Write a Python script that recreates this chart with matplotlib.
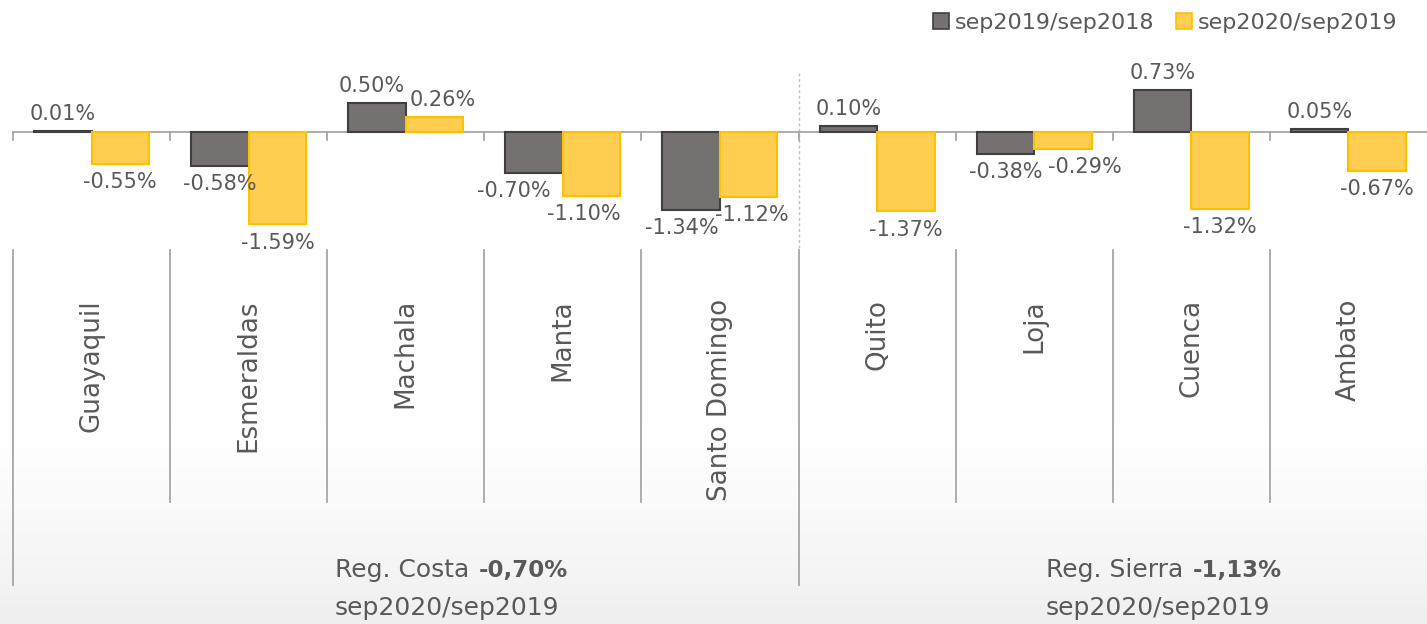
import numpy as np
import matplotlib
matplotlib.use("Agg")
import matplotlib.pyplot as plt
from matplotlib.patches import Patch
from matplotlib.colors import LinearSegmentedColormap

cities = ["Guayaquil", "Esmeraldas", "Machala", "Manta", "Santo Domingo",
          "Quito", "Loja", "Cuenca", "Ambato"]
var_2019 = [0.01, -0.58, 0.50, -0.70, -1.34, 0.10, -0.38, 0.73, 0.05]
var_2020 = [-0.55, -1.59, 0.26, -1.10, -1.12, -1.37, -0.29, -1.32, -0.67]
series_names = ["sep2019/sep2018", "sep2020/sep2019"]
regions = ["Reg. Costa", "Reg. Sierra"]
region_totals = ["-0,70%", "-1,13%"]
region_period = "sep2020/sep2019"

TXT = "#595959"
GRAY = "#767171"
GRAY_EDGE = "#3f3f3f"
YEL = "#ffcd4f"
YEL_EDGE = "#ffc000"
AXC = "#a6a6a6"

W, H = 1427, 624
CAT_W = 157.1      # px per category
X0 = 13            # px of left edge
Y0 = 132           # px of zero line
SCALE = 58.0       # px per 1 %

# small horizontal nudges (px) so neighbouring labels don't collide
nudge_2019 = {2: -5, 3: -20, 4: -9}
nudge_2020 = {2: 8, 3: -8, 4: 3, 6: 22}

def px_y(py):
    return (Y0 - py) / SCALE

def px_x(px):
    return (px - X0) / CAT_W - 0.5

plt.rcParams["font.family"] = ["DejaVu Sans"]

fig = plt.figure(figsize=(W / 100, H / 100), dpi=100)
ax = fig.add_axes([0, 0, 1, 1])
ax.set_xlim(px_x(0), px_x(W))
ax.set_ylim(px_y(H), px_y(0))
ax.axis("off")

# faint background gradient at the bottom
grad = np.linspace(0, 1, 200)[:, None] ** 1.4
grad = np.repeat(grad, 10, axis=1)
cmap = LinearSegmentedColormap.from_list("bg", ["#ffffff", "#efefef"])
ax.imshow(grad, cmap=cmap, aspect="auto", zorder=0,
          extent=(px_x(0), px_x(W), px_y(H), px_y(420)), origin="upper")

x = np.arange(len(cities))
bw = 0.366
b1 = ax.bar(x - bw / 2, var_2019, bw, color=GRAY, edgecolor=GRAY_EDGE,
            linewidth=1.5, zorder=3)
b2 = ax.bar(x + bw / 2, var_2020, bw, color=YEL, edgecolor=YEL_EDGE,
            linewidth=1.5, zorder=3)

# zero line, ticks and separators
ax.plot([px_x(X0), px_x(W)], [0, 0], color=AXC, lw=1.3, zorder=2)
edges = np.arange(len(cities) + 1) - 0.5
for e in edges[:-1]:
    ax.plot([e, e], [0, px_y(140)], color=AXC, lw=1.3, zorder=2)
    bottom = 585 if e in (edges[0], edges[5]) else 502
    ax.plot([e, e], [px_y(250), px_y(bottom)], color=AXC, lw=1.3, zorder=2)
ax.plot([edges[5], edges[5]], [px_y(73), px_y(250)], color="#bfbfbf",
        lw=1.0, ls=(0, (2, 2)), zorder=1)

# data labels
for bars, vals, nudge in ((b1, var_2019, nudge_2019), (b2, var_2020, nudge_2020)):
    for i, (b, v) in enumerate(zip(bars, vals)):
        cx = b.get_x() + b.get_width() / 2
        dx = nudge.get(i, 0) * 0.72
        if v >= 0:
            ax.annotate(f"{v:.2f}%", (cx, v), xytext=(dx, 5),
                        textcoords="offset points", ha="center", va="bottom",
                        fontsize=15, color=TXT, zorder=4)
        else:
            ax.annotate(f"{v:.2f}%", (cx, v), xytext=(dx, -6),
                        textcoords="offset points", ha="center", va="top",
                        fontsize=15, color=TXT, zorder=4)

# category labels
for i, c in enumerate(cities):
    ax.text(i, px_y(299), c, rotation=90, ha="center", va="top",
            fontsize=18.8, color=TXT)

# region labels
reg_x = [335, 1046]
for rx, r, t in zip(reg_x, regions, region_totals):
    t1 = ax.text(px_x(rx), px_y(570), r, ha="left", va="center",
                 fontsize=18, color=TXT)
    ax.annotate(t, xy=(1, 0.5), xycoords=t1, xytext=(7, 0),
                textcoords="offset points", ha="left", va="center",
                fontsize=16.5, color=TXT, fontweight="bold")
    ax.text(px_x(rx), px_y(608), region_period, ha="left", va="center",
            fontsize=18, color=TXT)

handles = [Patch(facecolor=GRAY, edgecolor=GRAY_EDGE, lw=1.2),
           Patch(facecolor=YEL, edgecolor=YEL_EDGE, lw=1.2)]
fig.legend(handles, series_names, loc="upper right",
           bbox_to_anchor=(0.993, 1.012), ncol=2, frameon=False,
           fontsize=16, handlelength=0.7, handleheight=0.7,
           handletextpad=0.25, columnspacing=1.0, labelcolor=TXT)

fig.savefig("out.png", dpi=100)
